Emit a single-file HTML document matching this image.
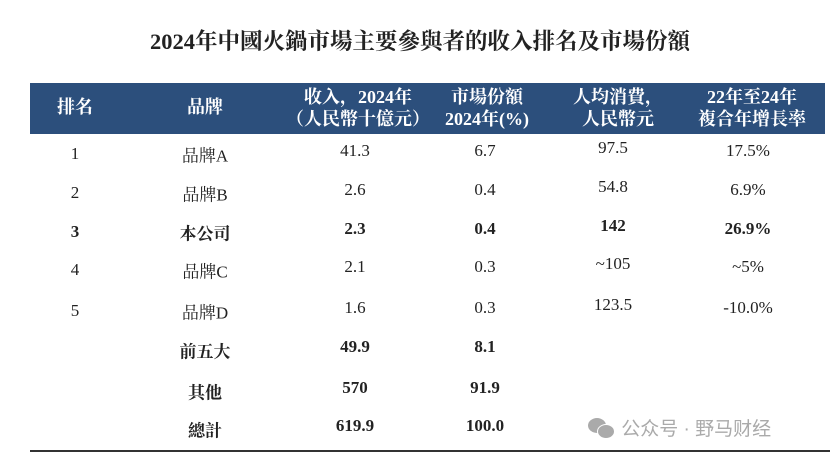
<!DOCTYPE html>
<html><head><meta charset="utf-8"><style>
body{margin:0;width:840px;height:463px;background:#fff;position:relative;overflow:hidden;font-family:"Liberation Serif","Noto Serif CJK SC",serif;color:#222}
.t{position:absolute;transform:translate(-50%,-50%);white-space:nowrap;font-size:17px}
.b{font-weight:bold}
.h{color:#fff;font-weight:bold;font-size:18px;line-height:22px;text-align:center}
</style></head><body>
<div class="t b" style="left:420px;top:40px;font-size:22.5px">2024年中國火鍋市場主要參與者的收入排名及市場份額</div>
<div style="position:absolute;left:30px;top:83px;width:795px;height:51px;background:#2c4f7c"></div>
<div class="t h" style="left:75px;top:107px">排名</div>
<div class="t h" style="left:205px;top:107px">品牌</div>
<div class="t h" style="left:358px;top:108px">收入，2024年<br>（人民幣十億元）</div>
<div class="t h" style="left:487px;top:108px">市場份額<br>2024年(%)</div>
<div class="t h" style="left:618px;top:108px">人均消費，<br>人民幣元</div>
<div class="t h" style="left:752px;top:108px">22年至24年<br>複合年增長率</div>
<div id="rows"></div>
<div style="position:absolute;left:30px;top:450px;width:800px;height:1.5px;background:#333"></div>
<div style="position:absolute;left:588px;top:414px;font-family:'Liberation Sans','Noto Sans CJK SC',sans-serif;font-size:19px;color:#aaa;white-space:nowrap"><span style="display:inline-block;width:28px;height:20px;vertical-align:-3px;position:relative"><span style="position:absolute;left:0;top:0;width:18px;height:15px;border-radius:50%;background:#aaa"></span><span style="position:absolute;left:9px;top:6px;width:16px;height:13px;border-radius:50%;background:#aaa;border:1px solid #fff"></span></span> 公众号 · 野马财经</div>
<script>
const ranks=["1","2","3","4","5","","",""];
const brands=["品牌A","品牌B","本公司","品牌C","品牌D","前五大","其他","總計"];
const revenue=["41.3","2.6","2.3","2.1","1.6","49.9","570","619.9"];
const share=["6.7","0.4","0.4","0.3","0.3","8.1","91.9","100.0"];
const perCapita=["97.5","54.8","142","~105","123.5","","",""];
const cagr=["17.5%","6.9%","26.9%","~5%","-10.0%","","",""];
const boldRows=[false,false,true,false,false,true,true,true];
const rowY=[155,194,233,271,312,351,392,430];
const cols=[[ranks,75,-1],[brands,205,-1],[revenue,355,-4],[share,485,-4],[perCapita,613,-7],[cagr,748,-4]];
const names=["rank","brand","revenue","share","per-capita","cagr"];
const c=document.getElementById('rows');
rowY.forEach((y,i)=>{cols.forEach((col,j)=>{const v=col[0][i];if(!v)return;
const d=document.createElement('div');d.className='t'+(boldRows[i]?' b':'');


d.style.left=col[1]+'px';d.style.top=(y+col[2])+'px';d.textContent=v;c.appendChild(d);});});
</script>
</body></html>
